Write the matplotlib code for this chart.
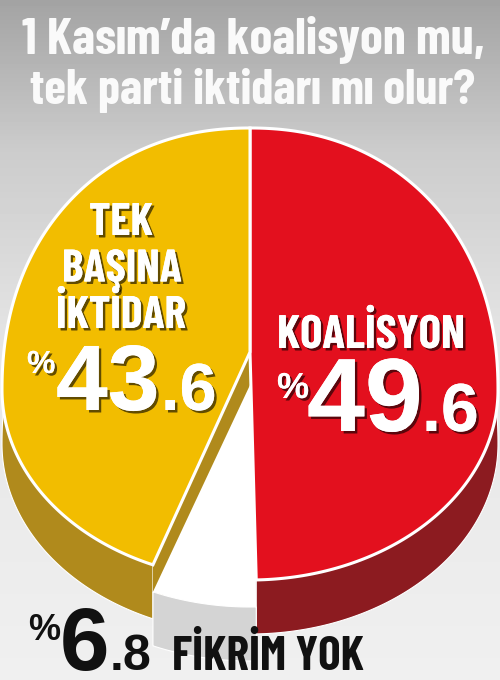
import numpy as np
import matplotlib
matplotlib.use('Agg')
import matplotlib.pyplot as plt
from matplotlib.patches import Polygon
import matplotlib.patheffects as pe
from matplotlib import font_manager as fm

title_lines = ['1 Kasım’da koalisyon mu,', 'tek parti iktidarı mı olur?']
labels = ['KOALİSYON', 'FİKRİM YOK', 'TEK\nBAŞINA\nİKTİDAR']
values = [49.6, 6.8, 43.6]
face_colors = ['#e3101e', '#ffffff', '#f2bd00']
side_colors = ['#8c1b20', '#d4d4d4', '#b08a1c']

installed = {f.name for f in fm.fontManager.ttflist}


def pick(cands):
    return [c for c in cands if c in installed][:1] + ['DejaVu Sans']


word_font = pick(['Barlow Condensed', 'Roboto Condensed', 'Archivo Narrow',
                  'Liberation Sans Narrow', 'PT Sans Narrow', 'Oswald'])
num_font = pick(['Liberation Sans', 'Roboto'])

fig = plt.figure(figsize=(5, 6.8), dpi=100)
ax = fig.add_axes([0, 0, 1, 1])
ax.set_xlim(0, 500)
ax.set_ylim(680, 0)
ax.axis('off')
renderer = fig.canvas.get_renderer()

# grey backdrop, darker at the top
yy = np.linspace(0, 680, 340)
shade = np.interp(yy, [0, 150, 350, 680], [0.64, 0.80, 0.90, 0.94])
ax.imshow(np.tile(shade[:, None], (1, 2)), extent=[0, 500, 680, 0],
          cmap='gray', vmin=0, vmax=1, aspect='auto', zorder=0)

# pie geometry (pixels)
cx, cy = 250, 390
rx, ry_top, ry_bot = 248, 262, 190
apex = np.array([250.0, 352.0])
depth = 54
sink = 27


def rim(theta):
    # theta in degrees, clockwise from 12 o'clock
    phi = np.radians(90 - np.asarray(theta, dtype=float))
    c, s = np.cos(phi), np.sin(phi)
    e = np.where(s > 0, 2 / 2.15, 1.0)
    x = cx + rx * np.sign(c) * np.abs(c) ** e
    y = cy - np.where(s > 0, ry_top, ry_bot) * np.sign(s) * np.abs(s) ** e
    return np.column_stack([x, y])


bounds = np.concatenate([[0], np.cumsum(values)]) / sum(values) * 360
down = np.array([0, depth])

for i in range(len(values)):
    arc = rim(np.linspace(bounds[i], bounds[i + 1], 200))
    top = apex.copy()
    if i == 1:
        arc = arc + [0, sink]
        top = top + [0, sink + 6]
    side = np.vstack([arc, (arc + down)[::-1]])
    z = 4 if i == 1 else 2
    ax.add_patch(Polygon(side, closed=True, fc=side_colors[i],
                         ec='white', lw=0.8, zorder=z))
    face = np.vstack([top, arc])
    if i == 1:
        ax.add_patch(Polygon(face, closed=True, fc=face_colors[i],
                             ec='none', zorder=5))
    else:
        ax.add_patch(Polygon(face, closed=True, fc=face_colors[i],
                             ec='white', lw=2.2, zorder=6))

# cut face of the yellow slice next to the sunken white slice
edge = rim([bounds[2]])[0]
cut = np.array([apex, edge, edge + down, apex + down])
ax.add_patch(Polygon(cut, closed=True, fc=side_colors[2], ec='none', zorder=3))

shadow = [pe.withSimplePatchShadow(offset=(1.8, -1.8), shadow_rgbFace='black',
                                   alpha=0.6), pe.Normal()]


def word(x, y, s, width, color, effects=None, ha='center', size=30):
    t = ax.text(x, y, s, ha=ha, va='baseline', fontsize=size,
                fontweight='bold', family=word_font, color=color, zorder=10,
                path_effects=effects)
    if width:
        w = t.get_window_extent(renderer).width
        t.set_fontsize(size * width / w)
    return t


def split_value(v):
    whole, frac = f'{v:.1f}'.split('.')
    return whole, '.' + frac


def value_label(x, y, v, sizes, offs, color, effects):
    whole, frac = split_value(v)
    kw = dict(ha='left', va='baseline', fontweight='bold', family=num_font,
              color=color, zorder=10, path_effects=effects)
    ax.text(x, y - offs[0], '%', fontsize=sizes[0], **kw)
    ax.text(x + offs[1], y, whole, fontsize=sizes[1], **kw)
    ax.text(x + offs[2], y, frac, fontsize=sizes[2], **kw)


# title
word(253, 54, title_lines[0], 463, '#fafafa')
word(253, 104, title_lines[1], 445, '#fafafa')

# KOALİSYON (red)
word(371, 348, labels[0], 188, 'white', shadow)
value_label(277, 431, values[0], (26, 75, 49), (33, 30, 145), 'white', shadow)

# TEK BAŞINA İKTİDAR (yellow)
lines = labels[2].split('\n')
mid = word(122, 235 + 46.5, lines[1], 120, 'white', shadow)
for k, line in enumerate(lines):
    if k != 1:
        word(121, 235 + k * 46.5, line, None, 'white', shadow,
             size=mid.get_fontsize())
value_label(27, 410, values[2], (23, 67, 48), (37, 29, 134), 'white', shadow)

# FİKRİM YOK (white)
value_label(28, 670, values[1], (26, 64, 36), (30, 32, 82), '#111111', None)
word(172, 670, labels[1], 192, '#111111', ha='left')

fig.savefig('out.png', dpi=100)
